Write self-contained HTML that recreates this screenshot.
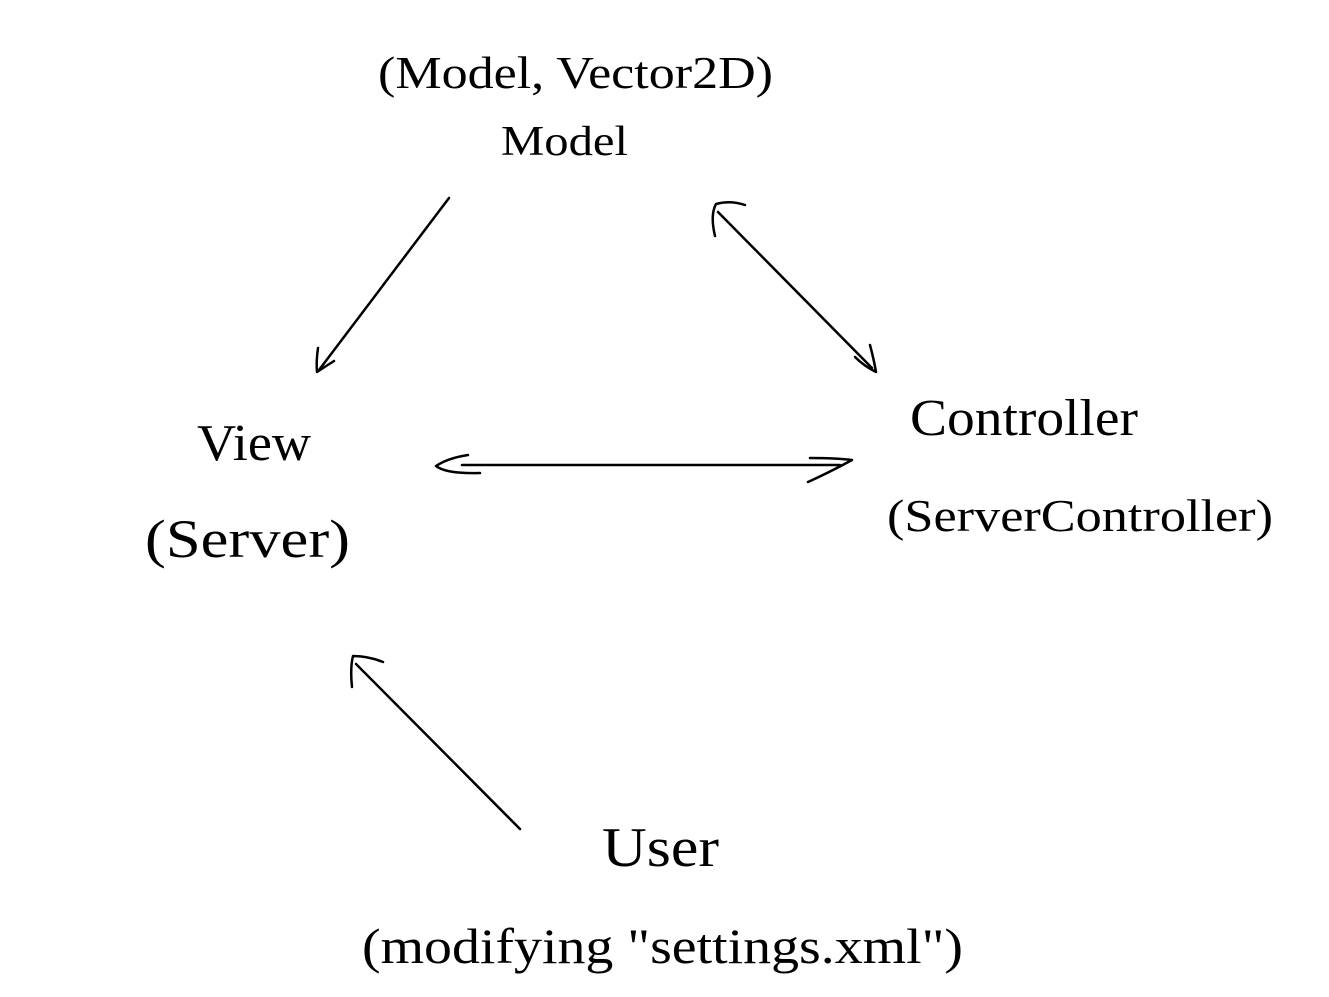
<!DOCTYPE html>
<html><head><meta charset="utf-8"><style>html,body{margin:0;padding:0;background:#fff}svg{display:block}</style></head>
<body>
<svg width="1329" height="997" viewBox="0 0 1329 997" xmlns="http://www.w3.org/2000/svg">
<g font-family="Liberation Serif, serif" fill="#000">
<text x="378" y="88" font-size="46" textLength="395" lengthAdjust="spacingAndGlyphs">(Model, Vector2D)</text>
<text x="501" y="155" font-size="42" textLength="127" lengthAdjust="spacingAndGlyphs">Model</text>
<text x="197" y="460" font-size="52" textLength="114" lengthAdjust="spacingAndGlyphs">View</text>
<text x="145" y="557" font-size="54" textLength="205" lengthAdjust="spacingAndGlyphs">(Server)</text>
<text x="910" y="435" font-size="52" textLength="228" lengthAdjust="spacingAndGlyphs">Controller</text>
<text x="887" y="531" font-size="46" textLength="386" lengthAdjust="spacingAndGlyphs">(ServerController)</text>
<text x="602" y="866" font-size="56" textLength="117" lengthAdjust="spacingAndGlyphs">User</text>
<text x="362" y="963" font-size="50" textLength="601" lengthAdjust="spacingAndGlyphs">(modifying "settings.xml")</text>
</g>
<g fill="none" stroke="#000" stroke-width="2.5" stroke-linecap="round" stroke-linejoin="round">
<path d="M449 198 L319 370"/>
<path d="M318 348 Q316 362 317 372 Q326 366 334 361"/>
<path d="M718 212 L872 368"/>
<path d="M870 345 Q874 360 876 372 Q864 366 855 357"/>
<path d="M715 236 Q710 215 716 204 Q730 200 745 205"/>
<path d="M462 465 L840 465"/>
<path d="M468 455 Q448 458 436 466 Q446 474 480 473"/>
<path d="M810 458 Q835 458 852 460 Q830 472 808 482"/>
<path d="M520 829 L356 664"/>
<path d="M352 687 Q350 668 353 656 Q368 656 383 662"/>
</g>
</svg>
</body></html>
